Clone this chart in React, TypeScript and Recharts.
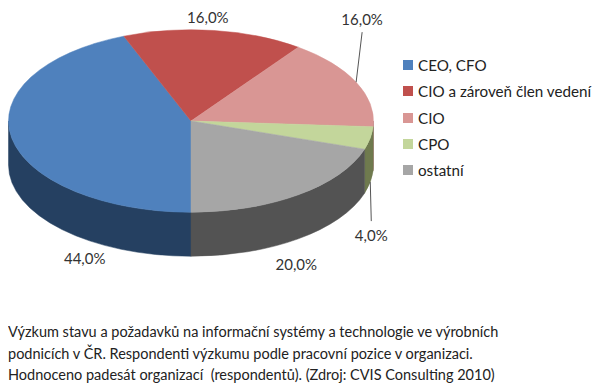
import React from "react";
import { PieChart, Pie, Legend } from "recharts";

const categories = ["CEO, CFO", "CIO a zároveň člen vedení", "CIO", "CPO", "ostatní"];
const shares = [44, 16, 16, 4, 20];
const topColors = ["#4f81bd", "#c0504d", "#d99694", "#c3d69b", "#a6a6a6"];
const wallColors = ["#254061", "#8c3836", "#a06f6e", "#6f7a4e", "#535353"];
const captionLines = [
  "Výzkum stavu a požadavků na informační systémy a technologie ve výrobních",
  "podnicích v ČR. Respondenti výzkumu podle pracovní pozice v organizaci.",
  "Hodnoceno padesát organizací  (respondentů). (Zdroj: CVIS Consulting 2010)",
];

const topData = categories.map((name, i) => ({ name, value: shares[i], fill: topColors[i] }));
const wallData = categories.map((name, i) => ({ name, value: shares[i], fill: wallColors[i] }));

const SQUASH = 0.5;
const DEPTH = 44;
const FONT = "Lato, 'Open Sans', sans-serif";
const labelOffsets = [
  [73, 120],
  [-6, -13.5],
  [6, -63],
  [1, 97],
  [-2, 69],
];
const hasLeader = [false, false, true, true, false];

const RAD = Math.PI / 180;
const pt = (cx: number, cy: number, r: number, a: number) => [
  cx + r * Math.cos(a * RAD),
  cy - r * SQUASH * Math.sin(a * RAD),
];

function TopSlice(p: any) {
  const { cx, cy, outerRadius: r, startAngle: s, endAngle: e, fill } = p;
  const [x1, y1] = pt(cx, cy, r, s);
  const [x2, y2] = pt(cx, cy, r, e);
  const large = Math.abs(s - e) > 180 ? 1 : 0;
  const sweep = s > e ? 1 : 0;
  return (
    <path
      d={`M${cx},${cy}L${x1},${y1}A${r},${r * SQUASH} 0 ${large} ${sweep} ${x2},${y2}Z`}
      fill={fill}
      stroke={fill}
      strokeWidth={0.5}
    />
  );
}

function WallSlice(p: any) {
  const { cx, cy, outerRadius: r, startAngle: s, endAngle: e, fill } = p;
  // only the near half of the rim is visible: angles in (180, 360) or (-180, 0)
  const hi = Math.max(s, e);
  const lo = Math.min(s, e);
  let from = 0;
  let to = 0;
  if (hi > 180) {
    from = hi;
    to = Math.max(lo, 180);
  } else if (lo < 0) {
    from = Math.min(hi, 0);
    to = lo;
  } else {
    return <g />;
  }
  const [x1, y1] = pt(cx, cy, r, from);
  const [x2, y2] = pt(cx, cy, r, to);
  const d = `M${x1},${y1}A${r},${r * SQUASH} 0 0 1 ${x2},${y2}L${x2},${y2 + DEPTH}A${r},${r * SQUASH} 0 0 0 ${x1},${y1 + DEPTH}Z`;
  return <path d={d} fill={fill} stroke={fill} strokeWidth={0.5} />;
}

function SliceLabel(p: any) {
  const { cx, cy, outerRadius: r, midAngle, value, index } = p;
  const [ax, ay] = pt(cx, cy, r, midAngle);
  const [dx, dy] = labelOffsets[index];
  const lx = ax + dx;
  const ly = ay + dy;
  const startY = Math.sin(midAngle * RAD) < 0 ? ay + DEPTH : ay;
  const endY = dy < 0 ? ly + 13 : ly - 14;
  return (
    <g>
      {hasLeader[index] && <line x1={ax} y1={startY} x2={lx} y2={endY} stroke="#555" strokeWidth={1} />}
      <text x={lx} y={ly} textAnchor="middle" dominantBaseline="central" fontFamily={FONT} fontSize={15} fill="#333">
        {`${Number(value).toFixed(1).replace(".", ",")}%`}
      </text>
    </g>
  );
}

function LegendList(p: any) {
  const items = (p.payload ?? [])
    .filter((it: any) => topColors.includes(it.color))
    .sort((a: any, b: any) => topColors.indexOf(a.color) - topColors.indexOf(b.color));
  return (
    <div style={{ fontFamily: FONT, fontSize: 15.2, color: "#222" }}>
      {items.map((it: any) => (
        <div key={it.value} style={{ display: "flex", alignItems: "center", height: 26.3, whiteSpace: "nowrap" }}>
          <span style={{ width: 10, height: 10, background: it.color, marginRight: 5, display: "inline-block" }} />
          {it.value}
        </div>
      ))}
    </div>
  );
}

export default function App() {
  return (
    <div style={{ position: "relative", width: 592, height: 375, background: "#fff" }}>
      <PieChart width={592} height={310} margin={{ top: 0, right: 0, bottom: 0, left: 0 }}>
        <Pie
          data={wallData}
          dataKey="value"
          nameKey="name"
          cx={183}
          cy={113}
          outerRadius={182.5}
          startAngle={270}
          endAngle={-90}
          paddingAngle={0}
          stroke="none"
          legendType="none"
          shape={WallSlice}
          isAnimationActive={false}
        />
        <Pie
          data={topData}
          dataKey="value"
          nameKey="name"
          cx={183}
          cy={113}
          outerRadius={182.5}
          startAngle={270}
          endAngle={-90}
          paddingAngle={0}
          stroke="none"
          shape={TopSlice}
          label={SliceLabel}
          labelLine={false}
          isAnimationActive={false}
        />
        <Legend
          layout="vertical"
          content={LegendList}
          wrapperStyle={{ position: "absolute", left: 395, top: 44, width: 197, bottom: "auto", right: "auto" }}
        />
      </PieChart>
      <div
        style={{
          position: "absolute",
          left: 0,
          top: 313,
          fontFamily: FONT,
          fontSize: 14.5,
          lineHeight: "21.5px",
          color: "#222",
          whiteSpace: "pre",
        }}
      >
        {captionLines.map((l) => (
          <div key={l}>{l}</div>
        ))}
      </div>
    </div>
  );
}
